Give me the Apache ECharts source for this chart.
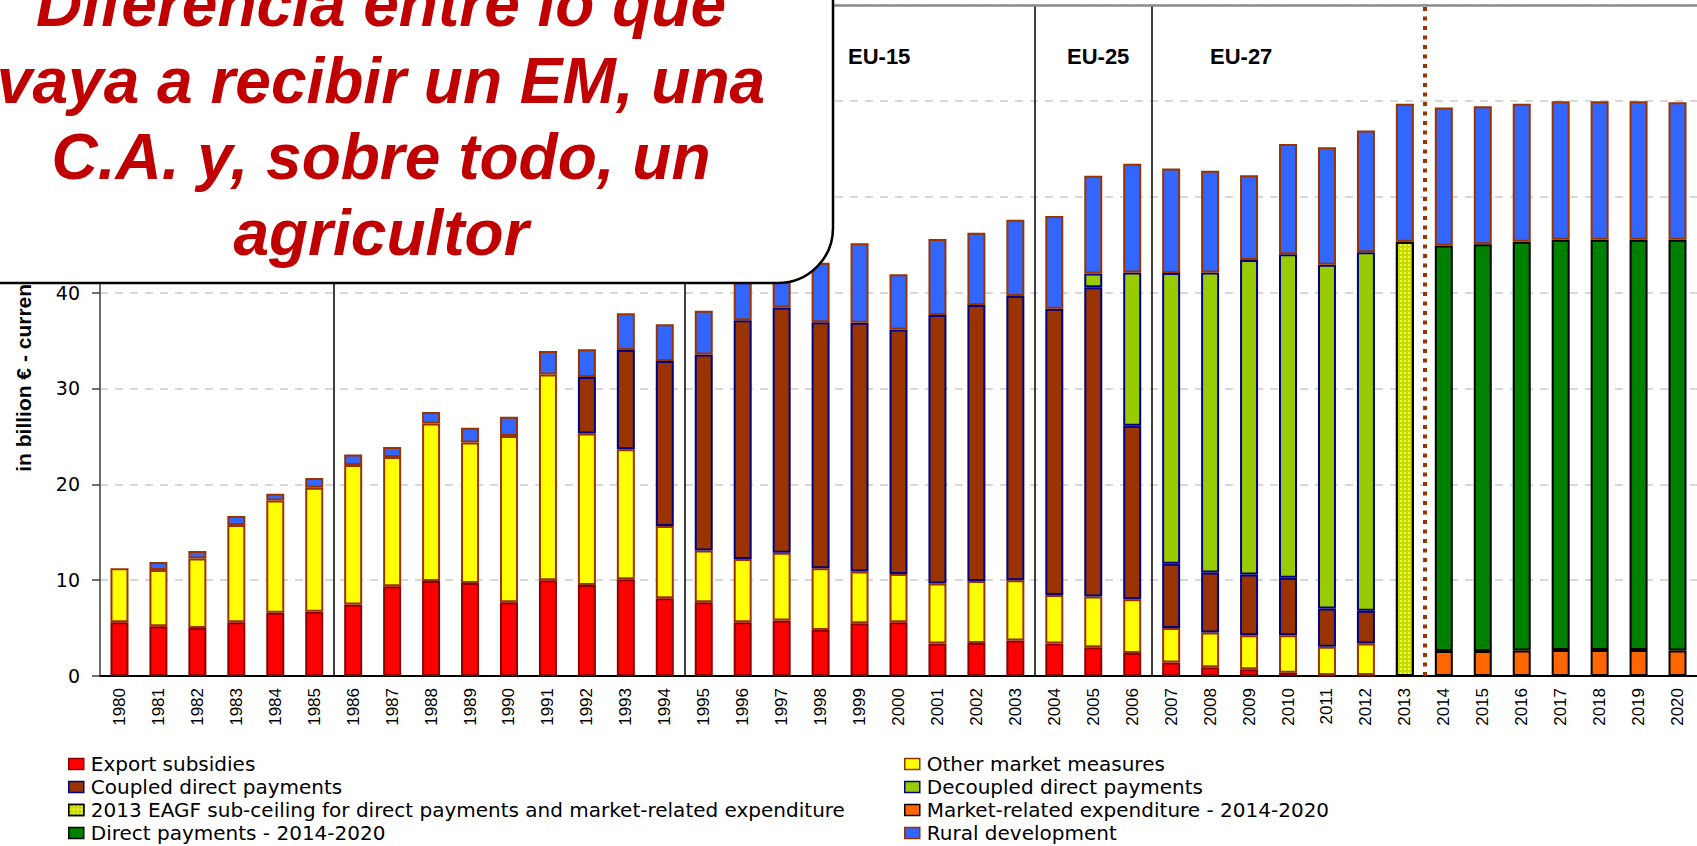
<!DOCTYPE html>
<html>
<head>
<meta charset="utf-8">
<script src="https://cdn.jsdelivr.net/npm/echarts@6/dist/echarts.min.js"></script>
<style>
html,body{margin:0;padding:0;background:#fff;}
#c{width:1697px;height:846px;}
</style>
</head>
<body>
<div id="c"></div>
<script>
// ---- categories ----
const years = ['1980','1981','1982','1983','1984','1985','1986','1987','1988','1989',
  '1990','1991','1992','1993','1994','1995','1996','1997','1998','1999',
  '2000','2001','2002','2003','2004','2005','2006','2007','2008','2009',
  '2010','2011','2012','2013','2014','2015','2016','2017','2018','2019','2020'];

// ---- series values (billion €) ----
const exportSubsidies = [5.6,5.2,5.0,5.6,6.6,6.7,7.45,9.35,9.9,9.7,
  7.7,10.0,9.5,10.1,8.1,7.7,5.6,5.8,4.8,5.5,
  5.6,3.4,3.45,3.7,3.4,3.0,2.4,1.4,0.9,0.7,
  0.35,0.1,0.1,null,null,null,null,null,null,null,null];
const otherMarket = [5.65,5.85,7.25,10.15,11.7,12.95,14.55,13.5,16.45,14.65,
  17.35,21.45,15.8,13.55,7.55,5.4,6.6,7.05,6.45,5.4,
  5.05,6.25,6.45,6.3,5.05,5.3,5.6,3.6,3.65,3.55,
  3.9,2.95,3.3,null,null,null,null,null,null,null,null];
const coupledDirect = [null,null,null,null,null,null,null,null,null,null,
  null,null,5.9,10.35,17.2,20.45,24.9,25.6,25.65,25.95,
  25.5,28.0,28.8,29.65,29.85,32.25,18.1,6.7,6.25,6.35,
  6.0,4.0,3.4,null,null,null,null,null,null,null,null];
const decoupledDirect = [null,null,null,null,null,null,null,null,null,null,
  null,null,null,null,null,null,null,null,null,null,
  null,null,null,null,null,1.45,16.0,30.35,31.3,32.8,
  33.75,35.85,37.4,null,null,null,null,null,null,null,null];
const subCeiling2013 = [null,null,null,null,null,null,null,null,null,null,
  null,null,null,null,null,null,null,null,null,null,
  null,null,null,null,null,null,null,null,null,null,
  null,null,null,45.3,null,null,null,null,null,null,null];
const marketRelated = [null,null,null,null,null,null,null,null,null,null,
  null,null,null,null,null,null,null,null,null,null,
  null,null,null,null,null,null,null,null,null,null,
  null,null,null,null,2.6,2.6,2.65,2.7,2.7,2.7,2.65];
const directPayments = [null,null,null,null,null,null,null,null,null,null,
  null,null,null,null,null,null,null,null,null,null,
  null,null,null,null,null,null,null,null,null,null,
  null,null,null,null,42.3,42.45,42.65,42.8,42.8,42.8,42.85];
const ruralDev = [null,0.85,0.8,0.95,0.7,1.0,1.1,1.05,1.2,1.55,
  2.0,2.45,2.9,3.85,3.85,4.55,4.55,3.85,6.2,8.3,
  5.75,7.95,7.55,7.95,9.7,10.2,11.35,10.9,10.6,8.85,
  11.5,12.25,12.7,14.4,14.4,14.4,14.4,14.45,14.45,14.45,14.35];

// ---- names / labels ----
const seriesNames = ['Export subsidies','Other market measures','Coupled direct payments',
  'Decoupled direct payments','2013 EAGF sub-ceiling for direct payments and market-related expenditure',
  'Market-related expenditure - 2014-2020','Direct payments - 2014-2020','Rural development'];
const legendCol1 = [seriesNames[0], seriesNames[2], seriesNames[4], seriesNames[6]];
const legendCol2 = [seriesNames[1], seriesNames[3], seriesNames[5], seriesNames[7]];
const yTicks = {min:0, max:70, interval:10, lastVisible:40};   // labels above 40 lie under the callout
const dividerBoundaries = [6, 15, 24, 27];   // category boundaries (period changes)
const forecastBoundary = 34;                  // between 2013 and 2014
const eraLabels = ['EU-15','EU-25','EU-27'];
const calloutLines = ['Diferencia entre lo que','vaya a recibir un EM, una','C.A. y, sobre todo, un','agricultor'];

const chart = echarts.init(document.getElementById('c'), null, {renderer:'svg'});

function bar(name, data, fill, border, extra) {
  const s = {
    name: name, type: 'bar', stack: 'total', data: data, barWidth: 18,
    xAxisIndex: 0, yAxisIndex: 0,
    itemStyle: {color: fill, borderColor: border, borderWidth: 2},
    emphasis: {disabled: true}
  };
  if (extra) Object.assign(s.itemStyle, extra);
  return s;
}

const legendBase = {
  orient: 'vertical', top: 754, padding: 0, itemWidth: 15, itemHeight: 11, itemGap: 3,
  icon: 'rect', selectedMode: false,
  itemStyle: {borderWidth: 1.5},
  textStyle: {fontSize: 20, fontFamily: 'DejaVu Sans', color: '#000', padding: [0,0,0,2]}
};

const markLines = dividerBoundaries.map(b => ({xAxis: b, lineStyle: {color: '#000', width: 1.5, type: 'solid'}}));
markLines.push({xAxis: forecastBoundary, lineStyle: {color: '#993300', width: 4, type: [4, 5.5]}});
markLines.push({yAxis: yTicks.max, lineStyle: {color: '#8c8c8c', width: 2.5, type: 'solid'}});

const calloutFont = 'italic bold 64px "Liberation Sans", Arial, sans-serif';
const calloutY = [4, 81, 157, 233];
const eraX = [848, 1067, 1210];

const graphic = [
  {type: 'rect', z: 100, shape: {x: -10, y: -10, width: 843, height: 293, r: [0, 0, 55, 0]},
   style: {fill: '#ffffff', stroke: '#000000', lineWidth: 2.5}}
];
calloutLines.forEach((t, i) => graphic.push({
  type: 'text', z: 101, x: 381, y: calloutY[i],
  style: {text: t, font: calloutFont, fill: '#C00000', textAlign: 'center', textVerticalAlign: 'middle'}
}));
eraLabels.forEach((t, i) => graphic.push({
  type: 'text', z: 90, x: eraX[i], y: 56,
  style: {text: t, font: 'bold 22px "Liberation Sans", Arial, sans-serif', fill: '#000', textAlign: 'left', textVerticalAlign: 'middle'}
}));

const option = {
  animation: false,
  backgroundColor: '#ffffff',
  grid: {left: 100, top: 5, width: 1605, height: 671},
  xAxis: [
    {type: 'category', data: years, boundaryGap: true,
     axisLine: {lineStyle: {color: '#000', width: 2}},
     axisTick: {length: 5, lineStyle: {color: '#333', width: 1.5}},
     axisLabel: {rotate: 90, interval: 0, margin: 12, fontSize: 17, color: '#000', fontFamily: 'Liberation Sans'},
     splitLine: {show: false}},
    {type: 'value', min: 0, max: years.length, show: false}
  ],
  yAxis: {
    type: 'value', min: yTicks.min, max: yTicks.max, interval: yTicks.interval,
    name: 'in billion € - current prices', nameLocation: 'middle', nameGap: 66,
    nameTextStyle: {fontSize: 21, fontWeight: 'bold', color: '#000', fontFamily: 'Liberation Sans'},
    axisLine: {show: true, lineStyle: {color: '#404040', width: 1.5}},
    axisTick: {show: true, length: 8, lineStyle: {color: '#404040', width: 1.5}},
    axisLabel: {margin: 20, fontSize: 19, color: '#000', fontFamily: 'DejaVu Sans',
      formatter: v => (v > yTicks.lastVisible ? '' : String(v))},
    splitLine: {show: true, lineStyle: {color: '#cccccc', width: 1.5, type: [8, 7]}}
  },
  legend: [
    Object.assign({}, legendBase, {left: 68, data: legendCol1}),
    Object.assign({}, legendBase, {left: 904, data: legendCol2})
  ],
  series: [
    bar(seriesNames[0], exportSubsidies, '#FF0000', '#8B0000'),
    bar(seriesNames[1], otherMarket, '#FFFF00', '#993300'),
    bar(seriesNames[2], coupledDirect, '#993300', '#000080'),
    bar(seriesNames[3], decoupledDirect, '#99CC00', '#000080'),
    bar(seriesNames[4], subCeiling2013, '#C8DA00', '#000000',
        {decal: {symbol: 'rect', symbolSize: 1, color: 'rgba(240,255,90,0.85)', dashArrayX: [2, 2], dashArrayY: [2, 2], rotation: 0}}),
    bar(seriesNames[5], marketRelated, '#FF6600', '#000000'),
    bar(seriesNames[6], directPayments, '#008000', '#000000'),
    bar(seriesNames[7], ruralDev, '#3366FF', '#993300'),
    {type: 'line', name: 'dividers', xAxisIndex: 1, yAxisIndex: 0, data: [], silent: true,
     markLine: {silent: true, symbol: ['none', 'none'], label: {show: false}, animation: false, data: markLines}}
  ],
  graphic: graphic
};
chart.setOption(option);
</script>
</body>
</html>
